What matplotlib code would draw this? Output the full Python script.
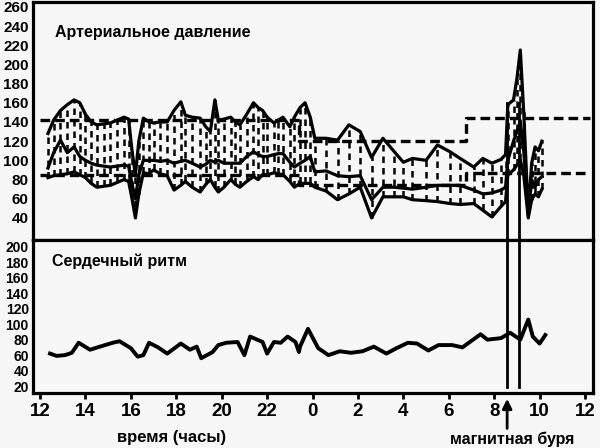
import numpy as np
import matplotlib
matplotlib.use("Agg")
import matplotlib.pyplot as plt

plt.rcParams['font.family'] = ['Liberation Sans', 'DejaVu Sans']

# time in hours, counted from 12:00 of the first day (24 = midnight, 36 = noon next day)
bp_t = [12.35, 12.6, 12.9, 13.2, 13.5, 13.75, 14.0, 14.25, 14.5, 14.8, 15.1, 15.4, 15.7, 15.9,
        16.05, 16.2, 16.35, 16.55, 16.8, 17.0, 17.3, 17.6, 17.9, 18.2, 18.4, 18.7, 19.05, 19.3,
        19.5, 19.7, 19.85, 20.1, 20.4, 20.6, 20.8, 21.1, 21.4, 21.6, 21.8, 22.0, 22.3, 22.5,
        22.7, 23.0, 23.2, 23.45, 23.67, 23.9, 24.1, 24.6, 25.1, 25.6, 26.1, 26.6, 27.1, 27.6,
        28.0, 28.4, 29.0, 29.5, 30.05, 30.5, 31.1, 31.5, 31.9, 32.3, 32.5, 32.6, 32.85, 33.0,
        33.15, 33.3, 33.5, 33.65, 33.8, 33.95, 34.1]
systolic = [128, 142, 152, 158, 163, 160, 148, 140, 137, 138, 139, 142, 145, 143,
            110, 85, 120, 144, 140, 139, 140, 140, 152, 161, 147, 145, 144, 135,
            130, 163, 142, 143, 145, 140, 137, 148, 160, 155, 152, 145, 139, 142,
            145, 135, 145, 155, 160, 145, 123, 123, 121, 137, 130, 103, 123, 109,
            98, 102, 100, 116, 109, 102, 93, 102, 97, 101, 106, 158, 163, 185,
            215, 150, 45, 97, 114, 110, 120]
mean_bp = [92, 108, 121, 108, 114, 104, 100, 97, 95, 94, 93, 94, 95, 94,
           75, 60, 85, 100, 100, 100, 99, 100, 97, 99, 100, 97, 93, 96,
           100, 98, 100, 97, 97, 97, 97, 104, 109, 106, 104, 104, 106, 107,
           107, 98, 93, 97, 100, 104, 88, 89, 84, 83, 84, 59, 72, 72,
           71, 70, 72, 74, 74, 74, 69, 65, 66, 69, 72, 100, 120, 130,
           140, 110, 43, 80, 72, 80, 83]
diastolic = [82, 84, 85, 86, 88, 85, 82, 76, 72, 73, 74, 77, 80, 78,
             60, 40, 65, 87, 86, 90, 86, 84, 69, 74, 78, 72, 67, 75,
             80, 72, 67, 72, 80, 75, 72, 78, 83, 80, 85, 85, 87, 86,
             85, 78, 72, 76, 76, 76, 72, 68, 59, 65, 72, 40, 62, 62,
             62, 59, 58, 57, 55, 54, 55, 48, 41, 52, 57, 85, 90, 95,
             100, 85, 40, 59, 65, 62, 70]

# normal limits (day / night / day)
limit_t = [12.0, 23.4, 30.75, 36.2]
limit_upper = [142, 120, 144]
limit_lower = [85, 74, 87]

hr_t = [12.44, 12.73, 13.1, 13.4, 13.7, 14.2, 14.64, 15.2, 15.5, 16.0, 16.3, 16.55, 16.8,
        17.2, 17.6, 18.2, 18.6, 18.9, 19.1, 19.6, 19.85, 20.2, 20.7, 21.0, 21.25, 21.8,
        22.0, 22.3, 22.6, 22.9, 23.25, 23.4, 23.45, 23.8, 24.25, 24.7, 25.2, 25.7, 26.2,
        26.7, 27.25, 27.7, 28.2, 28.6, 29.1, 29.55, 30.15, 30.6, 31.4, 31.7, 32.3, 32.7,
        33.15, 33.5, 33.7, 34.0, 34.25]
heart_rate = [62, 59, 60, 63, 76, 67, 71, 76, 78, 69, 58, 60, 76,
              70, 62, 75, 67, 71, 56, 64, 73, 76, 77, 60, 84, 77,
              62, 77, 76, 84, 77, 64, 71, 94, 69, 60, 65, 63, 65,
              71, 62, 69, 76, 75, 66, 73, 73, 70, 87, 80, 82, 89,
              80, 106, 84, 75, 86]

storm_t = [32.57, 33.1]

hour_ticks = np.arange(12, 37, 2)
hour_labels = [str(h % 24) for h in hour_ticks]

bg = '#f7f7f7'
fig = plt.figure(figsize=(6, 4.48), dpi=100, facecolor=bg)
ax1 = fig.add_axes([0.055, 0.4643, 0.9333, 0.5312], facecolor=bg)
ax2 = fig.add_axes([0.055, 0.1228, 0.9333, 0.3415], facecolor=bg)

# --- blood pressure ---
ax1.vlines(bp_t, diastolic, systolic, colors='black', linewidth=1.8,
           linestyles=(0, (2.6, 2.0)))
ax1.plot(bp_t, systolic, color='black', lw=2.3)
ax1.plot(bp_t, mean_bp, color='black', lw=2.3)
ax1.plot(bp_t, diastolic, color='black', lw=2.3)
ax1.plot(limit_t, limit_upper + [limit_upper[-1]], drawstyle='steps-post',
         color='black', lw=2.4, dashes=(2.9, 1.5))
ax1.plot(limit_t, limit_lower + [limit_lower[-1]], drawstyle='steps-post',
         color='black', lw=2.4, dashes=(2.9, 1.5))
for s in storm_t:
    ax1.axvline(s, ymin=0, ymax=(160 - 17) / (265 - 17), color='black', lw=2)
    ax2.axvline(s, ymin=(19 - 11) / (209 - 11), ymax=1, color='black', lw=2)

ax1.set_xlim(11.69, 36.35)
ax1.set_ylim(17, 265)
ax1.set_yticks(np.arange(40, 261, 20))
ax1.set_xticks([])
ax1.tick_params(axis='y', length=0, pad=3, labelsize=11)
for lb in ax1.get_yticklabels():
    lb.set_fontweight('bold')
ax1.text(0.039, 0.87, 'Артериальное давление', transform=ax1.transAxes,
         fontsize=11.5, fontweight='bold', va='center')

# --- heart rate ---
ax2.plot(hr_t, heart_rate, color='black', lw=2.8)
ax2.set_xlim(11.69, 36.35)
ax2.set_ylim(11, 209)
ax2.set_yticks(np.arange(20, 201, 20))
ax2.set_xticks(hour_ticks)
ax2.set_xticklabels(hour_labels)
ax2.tick_params(axis='y', length=0, pad=3, labelsize=10)
ax2.tick_params(axis='x', length=4, width=2, pad=3, labelsize=13.5)
for lb in ax2.get_yticklabels() + ax2.get_xticklabels():
    lb.set_fontweight('bold')
ax2.text(0.034, 0.863, 'Сердечный ритм', transform=ax2.transAxes,
         fontsize=11.5, fontweight='bold', va='center')

for ax in (ax1, ax2):
    for sp in ax.spines.values():
        sp.set_linewidth(2.3)

ax2.annotate('', xy=(storm_t[0], -0.02), xytext=(storm_t[0], -0.25),
             xycoords=('data', 'axes fraction'), textcoords=('data', 'axes fraction'),
             arrowprops=dict(arrowstyle='-|>', lw=2, color='black', mutation_scale=14),
             annotation_clip=False)

fig.text(172 / 600, 1 - 437 / 448, 'время (часы)', ha='center', va='center',
         fontsize=12, fontweight='bold')
fig.text(512 / 600, 1 - 439 / 448, 'магнитная буря', ha='center', va='center',
         fontsize=11.5, fontweight='bold')

fig.savefig('out.png', dpi=100, facecolor=bg)
